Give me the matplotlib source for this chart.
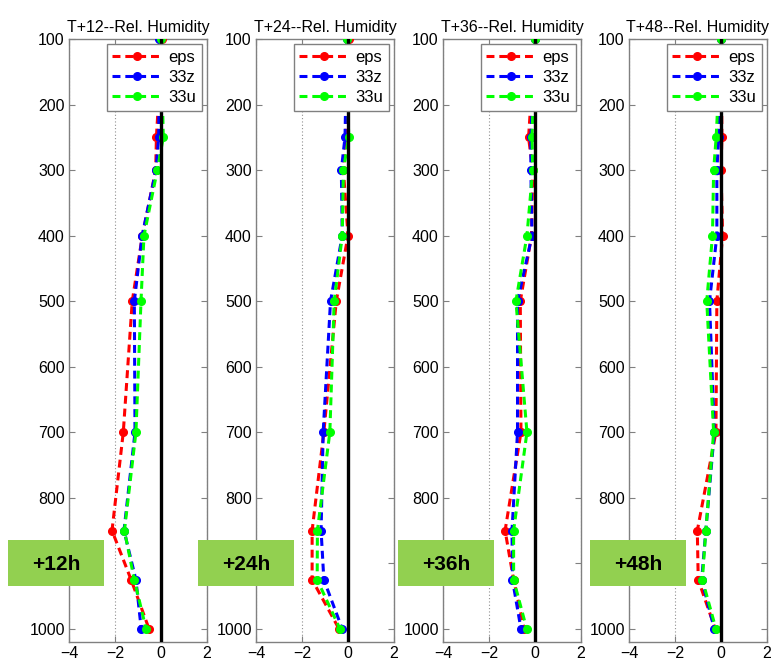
import matplotlib
matplotlib.use("Agg")
import matplotlib.pyplot as plt
from matplotlib.patches import Rectangle

plt.rcParams['font.family'] = ['Liberation Sans', 'DejaVu Sans']

# Pressure levels (hPa)
levels = [100, 250, 300, 400, 500, 700, 850, 925, 1000]

# Relative humidity bias per lead time, for each experiment
eps_12 = [0.05, -0.20, -0.23, -0.81, -1.25, -1.64, -2.13, -1.30, -0.52]
z33_12 = [-0.07, -0.10, -0.22, -0.82, -1.16, -1.13, -1.61, -1.09, -0.86]
u33_12 = [0.00, 0.10, -0.16, -0.74, -0.87, -1.09, -1.59, -1.16, -0.65]

eps_24 = [0.06, -0.10, -0.20, 0.00, -0.51, -1.05, -1.56, -1.56, -0.39]
z33_24 = [-0.05, -0.13, -0.29, -0.25, -0.76, -1.08, -1.17, -1.05, -0.25]
u33_24 = [-0.05, 0.03, -0.20, -0.25, -0.60, -0.79, -1.33, -1.34, -0.35]

eps_36 = [0.00, -0.28, -0.10, -0.15, -0.64, -0.61, -1.30, -0.93, -0.47]
z33_36 = [0.00, -0.18, -0.18, -0.13, -0.76, -0.76, -1.00, -0.98, -0.61]
u33_36 = [0.00, -0.13, -0.10, -0.35, -0.83, -0.35, -0.93, -0.93, -0.36]

eps_48 = [0.00, 0.04, 0.00, 0.07, -0.18, -0.22, -1.03, -0.99, -0.25]
z33_48 = [0.00, -0.10, -0.18, -0.18, -0.50, -0.29, -0.66, -0.84, -0.29]
u33_48 = [0.00, -0.21, -0.32, -0.37, -0.62, -0.32, -0.66, -0.81, -0.22]

titles = ["T+12--Rel. Humidity", "T+24--Rel. Humidity",
          "T+36--Rel. Humidity", "T+48--Rel. Humidity"]
badges = ["+12h", "+24h", "+36h", "+48h"]
series_labels = ["eps", "33z", "33u"]
series_colors = ["#ff0000", "#0000ff", "#00ff00"]

x_ticks = [-4, -2, 0, 2]
y_ticks = list(range(100, 1001, 100))
# the 900 hPa label sits under the lead-time badge
y_ticklabels = ["" if v == 900 else str(v) for v in y_ticks]

panels = [
    (eps_12, z33_12, u33_12),
    (eps_24, z33_24, u33_24),
    (eps_36, z33_36, u33_36),
    (eps_48, z33_48, u33_48),
]

W, H = 773, 665
fig = plt.figure(figsize=(W / 100, H / 100), dpi=100)

panel_left_px = [69, 256, 443, 629]
panel_w_px = 138
ax_bottom = 23 / H
ax_height = 603 / H
spine_gray = "#808080"

for i, (series, title) in enumerate(zip(panels, titles)):
    ax = fig.add_axes([panel_left_px[i] / W, ax_bottom, panel_w_px / W, ax_height])
    for vals, lab, col in zip(series, series_labels, series_colors):
        ax.plot(vals, levels, linestyle=(0, (2.6, 1.6)), color=col, lw=2.2,
                marker='.', markersize=11, label=lab, zorder=3)
    ax.axvline(0, color="black", lw=2.4, zorder=4)
    ax.set_xlim(-4, 2)
    ax.set_ylim(1020, 100)
    ax.set_xticks(x_ticks)
    ax.set_yticks(y_ticks)
    ax.set_yticklabels(y_ticklabels)
    ax.xaxis.grid(True, linestyle=(0, (1, 2)), color="#909090", lw=0.8)
    ax.tick_params(direction="in", length=4, color=spine_gray, labelsize=11.5,
                   top=True, right=True, pad=3)
    for sp in ax.spines.values():
        sp.set_color(spine_gray)
        sp.set_linewidth(1.0)
    ax.set_title(title, fontsize=11.5, pad=5)
    leg = ax.legend(loc="upper right", fontsize=12, frameon=True, fancybox=False,
                    borderaxespad=0.3, handlelength=3.0, handletextpad=0.35,
                    borderpad=0.35, labelspacing=0.3, framealpha=1)
    leg.get_frame().set_edgecolor(spine_gray)
    leg.get_frame().set_linewidth(1.0)
    leg.set_zorder(10)

# Lead-time badges drawn over the panels
overlay = fig.add_axes([0, 0, 1, 1], zorder=20)
overlay.set_xlim(0, W)
overlay.set_ylim(H, 0)
overlay.axis("off")
badge_left_px = [8, 198, 398, 590]
for x0, txt in zip(badge_left_px, badges):
    overlay.add_patch(Rectangle((x0, 540), 96, 46, facecolor="#92d050",
                                edgecolor="none"))
    overlay.text(x0 + 48, 564, txt, ha="center", va="center",
                 fontsize=15, fontweight="bold", color="black")

fig.savefig("out.png", dpi=100)
